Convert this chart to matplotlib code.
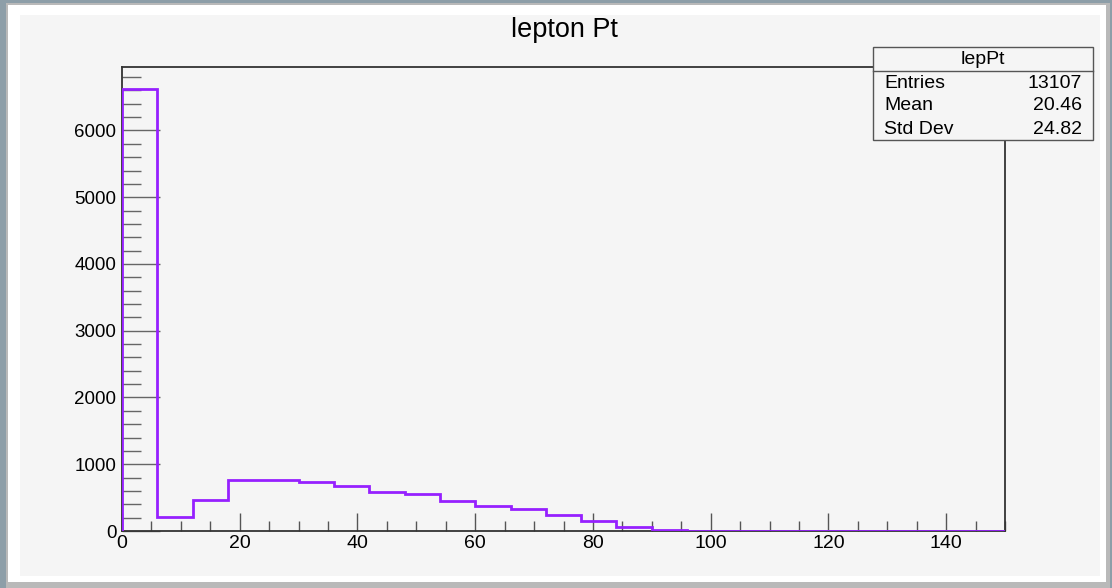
"""lepton Pt histogram, ROOT canvas look."""

import numpy as np
import matplotlib.pyplot as plt
from matplotlib.patches import Rectangle
from matplotlib.ticker import MultipleLocator

# bin contents (bin width 6 GeV, 0..150)
BIN_WIDTH = 6
COUNTS = [6620, 205, 466, 757, 757, 737, 667, 586, 556, 456, 376, 336, 241,
          150, 60, 20, 5, 2, 1, 0, 0, 0, 0, 0, 0]
EDGES = np.arange(0, BIN_WIDTH * len(COUNTS) + 1, BIN_WIDTH)

HIST_NAME = "lepPt"
TITLE = "lepton Pt"
STATS_LABELS = ["Entries", "Mean", "Std Dev"]
STATS_VALUES = ["13107", "20.46", "24.82"]

LINE_COL = "#9620ff"
FONT = ["Liberation Sans", "DejaVu Sans"]

plt.rcParams["font.family"] = FONT

W, H = 1112, 588
fig = plt.figure(figsize=(W / 100, H / 100), dpi=100, facecolor="#8d9ea8")


def px(x0, y0, x1, y1):
    # pixel box -> figure fraction (left, bottom, width, height)
    return (x0 / W, 1 - y1 / H, (x1 - x0) / W, (y1 - y0) / H)


# window frame + canvas
l, b, w, h = px(6, 3, 1110, 588)
fig.add_artist(Rectangle((l, b), w, h, transform=fig.transFigure,
                         facecolor="#b9b9b9", edgecolor="none", zorder=0))
l, b, w, h = px(8, 5, 1106, 582)
fig.add_artist(Rectangle((l, b), w, h, transform=fig.transFigure,
                         facecolor="white", edgecolor="none", zorder=0))
l, b, w, h = px(20, 15, 1100, 576)
fig.add_artist(Rectangle((l, b), w, h, transform=fig.transFigure,
                         facecolor="#f5f5f5", edgecolor="none", zorder=0))

ax = fig.add_axes(px(122, 67, 1005, 531))
ax.set_facecolor("#f5f5f5")
ax.stairs(COUNTS, EDGES, baseline=0, color=LINE_COL, lw=2, zorder=3)

ax.set_xlim(EDGES[0], EDGES[-1])
ax.set_ylim(0, max(COUNTS) * 1.05)

ax.xaxis.set_major_locator(MultipleLocator(20))
ax.xaxis.set_minor_locator(MultipleLocator(5))
ax.yaxis.set_major_locator(MultipleLocator(1000))
ax.yaxis.set_minor_locator(MultipleLocator(200))
ax.tick_params(axis="x", which="major", direction="in", length=13, width=1,
               color="#555555", labelsize=14, pad=3, top=False)
ax.tick_params(axis="x", which="minor", direction="in", length=7, width=1,
               color="#555555", top=False)
ax.tick_params(axis="y", which="major", direction="in", length=27, width=1,
               color="#666666", labelsize=13.5, pad=4, right=False)
ax.tick_params(axis="y", which="minor", direction="in", length=14, width=1,
               color="#666666", right=False)
for sp in ax.spines.values():
    sp.set_color("#333333")
    sp.set_linewidth(1.3)

fig.text(564 / W, 1 - 37 / H, TITLE, ha="center", va="baseline",
         fontsize=19.5)

# stats box
bx0, by0, bx1, by1 = 873, 47, 1093, 140
l, b, w, h = px(bx0, by0, bx1, by1)
fig.add_artist(Rectangle((l, b), w, h, transform=fig.transFigure,
                         facecolor="#f5f5f5", edgecolor="#555555", lw=1,
                         zorder=5))
fig.add_artist(plt.Line2D([bx0 / W, bx1 / W], [1 - 71 / H, 1 - 71 / H],
                          transform=fig.transFigure, color="#555555", lw=1,
                          zorder=6))
fig.text((bx0 + bx1) / 2 / W, 1 - 59 / H, HIST_NAME, ha="center",
         va="center", fontsize=14, zorder=7)
for i, (lab, val) in enumerate(zip(STATS_LABELS, STATS_VALUES)):
    yy = 1 - (83 + i * 23) / H
    fig.text(884 / W, yy, lab, ha="left", va="center", fontsize=14, zorder=7)
    fig.text(1082 / W, yy, val, ha="right", va="center", fontsize=14,
             zorder=7)

fig.savefig("out.png", dpi=100, facecolor=fig.get_facecolor())
